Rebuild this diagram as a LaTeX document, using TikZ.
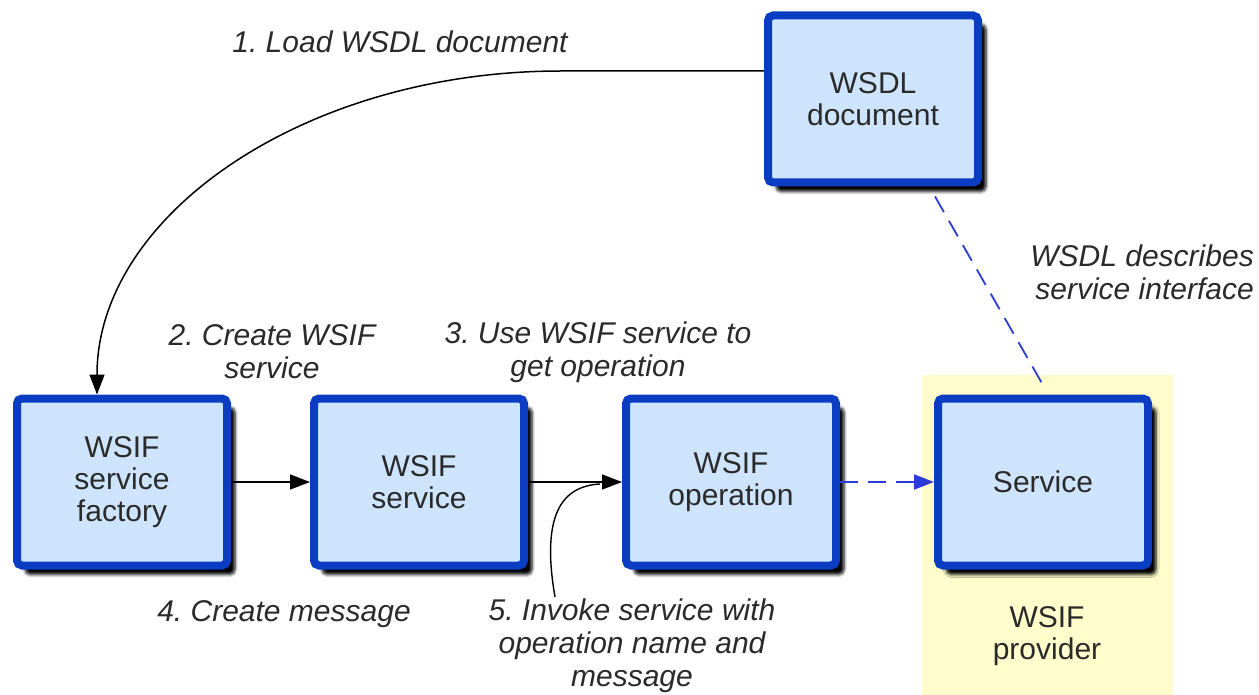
\documentclass[tikz,border=0pt]{standalone}
\usepackage{fontspec}
\setmainfont{Liberation Sans}
\usetikzlibrary{shadows.blur,arrows.meta,calc}
\frenchspacing
\definecolor{boxblue}{HTML}{0A3DC2}
\definecolor{boxfill}{HTML}{CDE4FC}
\definecolor{provfill}{HTML}{FEFDCB}
\definecolor{txt}{HTML}{2A2A2A}
\definecolor{dashblue}{HTML}{2B3CD6}
\tikzset{
  box/.style={draw=boxblue, line width=8pt, fill=boxfill, rounded corners=5pt,
    minimum width=210pt, minimum height=167pt, align=center, text=txt,
    font=\fontsize{30}{32}\selectfont,
    blur shadow={shadow xshift=8pt, shadow yshift=-9pt, shadow blur steps=5, shadow opacity=100, shadow blur radius=3pt}},
  lbl/.style={align=center, text=txt, font=\fontsize{30}{33}\selectfont\itshape, inner sep=0pt},
  tip/.style={-{Triangle[length=20pt,width=15pt]}},
  conn/.style={line width=1.5pt, tip},
  dconn/.style={line width=1.8pt, draw=dashblue, dash pattern=on 18pt off 10pt},
}
\begin{document}
\begin{tikzpicture}[x=1pt,y=-1pt]
\useasboundingbox (0,0) rectangle (1259,695);
\fill[provfill] (922,375) rectangle (1173,695);
\node[box] (wsdl) at (873,99) {WSDL\\document};
\node[box] (factory) at (122,482) {WSIF\\service\\factory};
\node[box] (service) at (419,482) {WSIF\\service};
\node[box] (oper) at (731,482) {WSIF\\operation};
\node[box] (svc) at (1043,482) {Service};
\node[lbl] (l1) at (400,42) {1. Load WSDL document};
\node[lbl, align=right, anchor=east] (ldesc) at (1254,272) {WSDL describes\\service interface};
\node[lbl] (l2) at (272,352) {2. Create WSIF\\service};
\node[lbl] (l3) at (598,352) {3. Use WSIF service to\\get operation};
\node[lbl] (l4) at (284,614) {4. Create message};
\node[lbl] (l5) at (632,646) {5. Invoke service with\\operation name and\\message};
\node[align=center, text=txt, font=\fontsize{30}{32}\selectfont] (prov) at (1047,636) {WSIF\\provider};
\coordinate (c5) at (555,597);
\coordinate (c5e) at (600,484);
\draw[conn] (wsdl.west |- 0,71) -- (561,71) .. controls (305,71) and (97,215) .. (factory.north -| 97,0);
\draw[conn] (factory.east) -- (service.west);
\draw[conn] (service.east) -- (oper.west);
\draw[line width=1.4pt] (c5) .. controls (540,510) and (565,486) .. (c5e);
\draw[dconn, tip] (oper.east) -- (svc.west);
\draw[dconn] ($(wsdl.south)+(62,10)$) -- ($(svc.north)+(2,-6)$);
\end{tikzpicture}
\end{document}
